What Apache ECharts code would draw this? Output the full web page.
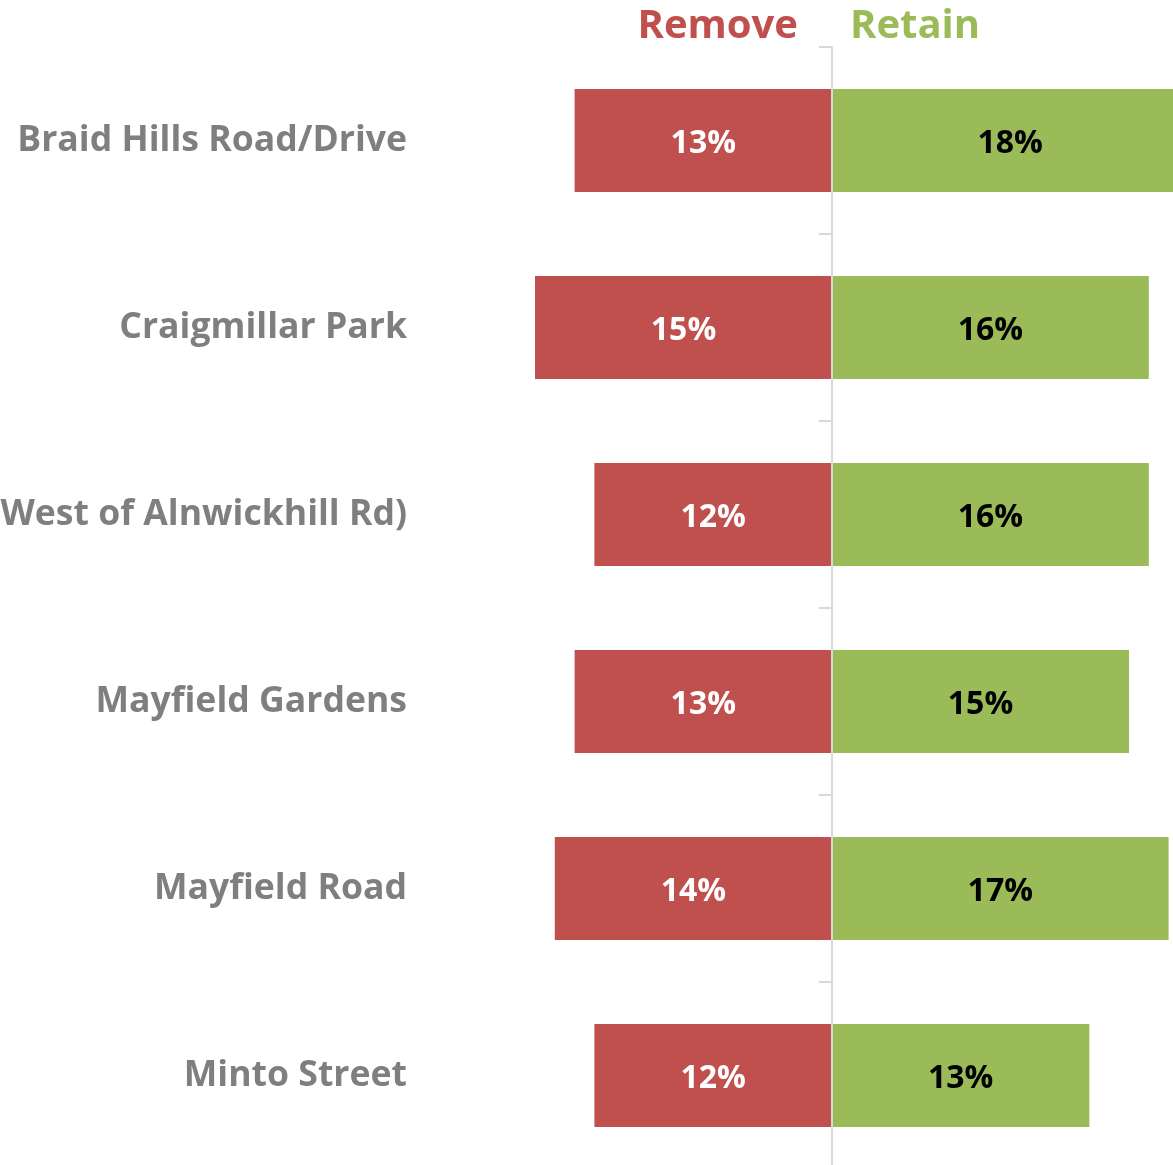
<!DOCTYPE html>
<html>
<head>
<meta charset="utf-8">
<script src="https://cdn.jsdelivr.net/npm/echarts@6/dist/echarts.min.js"></script>
<style>
  html, body { margin: 0; padding: 0; background: #fff; }
  #chart { width: 1173px; height: 1165px; }
</style>
</head>
<body>
<div id="chart"></div>
<script>
// Streets surveyed, top to bottom
const streets = [
  'Braid Hills Road/Drive',
  'Craigmillar Park',
  'Liberton Gardens (West of Alnwickhill Rd)',
  'Mayfield Gardens',
  'Mayfield Road',
  'Minto Street'
];
// Share of responses (%) for each option
const removeShare = [13, 15, 12, 13, 14, 12];
const retainShare = [18, 16, 16, 15, 17, 13];

const RED = '#C0504D';
const GREEN = '#9BBB59';
const FONT = '"Open Sans"';

const chart = echarts.init(document.getElementById('chart'), null, { renderer: 'canvas' });

chart.setOption({
  animation: false,
  backgroundColor: '#ffffff',
  textStyle: { fontFamily: FONT },
  legend: [
    {
      data: ['Remove'],
      right: 375, top: 7, padding: 0,
      icon: 'none', itemWidth: 0, itemGap: 0,
      selectedMode: false,
      textStyle: { color: RED, fontSize: 40, fontWeight: 'bold', fontFamily: FONT }
    },
    {
      data: ['Retain'],
      left: 845, top: 7, padding: 0,
      icon: 'none', itemWidth: 0, itemGap: 0,
      selectedMode: false,
      textStyle: { color: GREEN, fontSize: 40, fontWeight: 'bold', fontFamily: FONT }
    }
  ],
  grid: {
    left: 436, right: -55, top: 47, bottom: -4,
    containLabel: false,
    outerBoundsMode: 'none'
  },
  xAxis: {
    type: 'value', min: -20, max: 20, show: false
  },
  yAxis: [
    {
      // street names on the left
      type: 'category', data: streets, inverse: true,
      position: 'left',
      axisLine: { show: false, onZero: false },
      axisTick: { show: false },
      axisLabel: {
        color: '#7F7F7F', fontSize: 35.6, fontWeight: 'bold', fontFamily: FONT,
        margin: 29, padding: [4, 0, 0, 0]
      }
    },
    {
      // divider line at zero with ticks between streets
      type: 'category', data: streets, inverse: true,
      position: 'left', z: 5,
      axisLine: { show: true, onZero: true, lineStyle: { color: '#D9D9D9', width: 2 } },
      axisTick: { show: true, length: 13, lineStyle: { color: '#D9D9D9', width: 2 } },
      axisLabel: { show: false }
    }
  ],
  series: [
    {
      name: 'Remove', type: 'bar', stack: 'share', yAxisIndex: 0,
      barWidth: 103,
      itemStyle: { color: RED },
      data: removeShare.map(v => -v),
      label: {
        show: true, position: 'inside', color: '#ffffff', offset: [0, 3],
        fontSize: 32, fontWeight: 'bold', fontFamily: FONT,
        formatter: p => Math.abs(p.value) + '%'
      }
    },
    {
      name: 'Retain', type: 'bar', stack: 'share', yAxisIndex: 0,
      barWidth: 103,
      itemStyle: { color: GREEN },
      data: retainShare,
      label: {
        show: true, position: 'inside', color: '#000000', offset: [0, 3],
        fontSize: 32, fontWeight: 'bold', fontFamily: FONT,
        formatter: p => p.value + '%'
      }
    }
  ]
});
</script>
</body>
</html>
